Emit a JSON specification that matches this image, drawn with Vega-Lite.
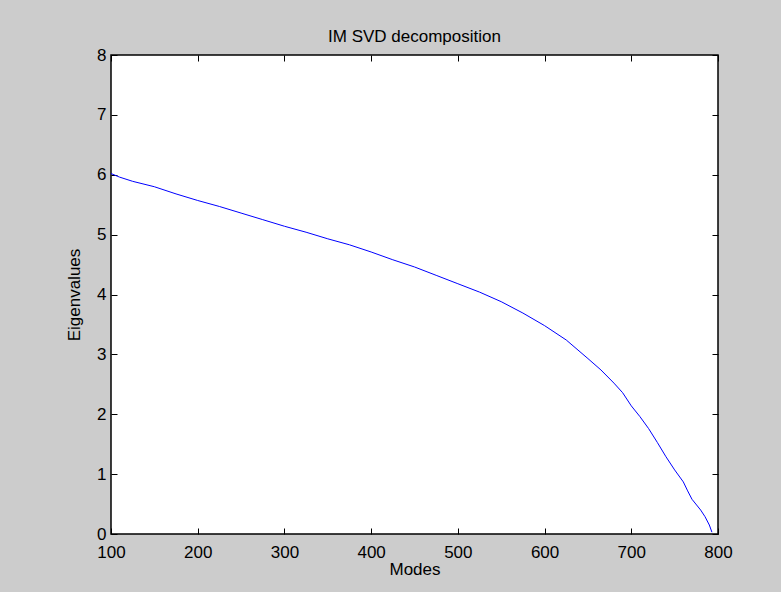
{
  "$schema": "https://vega.github.io/schema/vega-lite/v6.json",
  "width": 607,
  "height": 479,
  "autosize": {"type": "none"},
  "padding": {"left": 111, "top": 55, "right": 63, "bottom": 58},
  "background": "#cccccc",
  "title": {"text": "IM SVD decomposition", "font": "Liberation Sans", "fontSize": 17, "fontWeight": "normal", "color": "#000000", "offset": 0},
  "config": {
    "view": {"fill": "#ffffff", "stroke": "#000000", "strokeWidth": 1.5},
    "axis": {"grid": false, "domain": false, "labelFlush": false, "labelOverlap": false, "tickColor": "#000000", "tickSize": -6, "tickWidth": 1, "labelFont": "Liberation Sans", "labelFontSize": 17, "labelColor": "#000000", "titleFont": "Liberation Sans", "titleFontSize": 17, "titleFontWeight": "normal", "titleColor": "#000000"}
  },
  "data": {"values": [
    {"mode": 100, "ev": 6.02}, {"mode": 110, "ev": 5.96}, {"mode": 125, "ev": 5.89}, {"mode": 150, "ev": 5.80},
    {"mode": 175, "ev": 5.68}, {"mode": 200, "ev": 5.57}, {"mode": 225, "ev": 5.47}, {"mode": 250, "ev": 5.36},
    {"mode": 275, "ev": 5.25}, {"mode": 300, "ev": 5.14}, {"mode": 325, "ev": 5.04}, {"mode": 350, "ev": 4.93},
    {"mode": 375, "ev": 4.83}, {"mode": 400, "ev": 4.71}, {"mode": 425, "ev": 4.58}, {"mode": 450, "ev": 4.46},
    {"mode": 475, "ev": 4.32}, {"mode": 500, "ev": 4.18}, {"mode": 525, "ev": 4.04}, {"mode": 550, "ev": 3.88},
    {"mode": 575, "ev": 3.69}, {"mode": 600, "ev": 3.48}, {"mode": 625, "ev": 3.24}, {"mode": 650, "ev": 2.93},
    {"mode": 665, "ev": 2.74}, {"mode": 680, "ev": 2.52}, {"mode": 690, "ev": 2.36}, {"mode": 700, "ev": 2.14},
    {"mode": 710, "ev": 1.96}, {"mode": 720, "ev": 1.76}, {"mode": 730, "ev": 1.53}, {"mode": 740, "ev": 1.29},
    {"mode": 750, "ev": 1.07}, {"mode": 760, "ev": 0.87}, {"mode": 765, "ev": 0.72}, {"mode": 770, "ev": 0.58},
    {"mode": 780, "ev": 0.40}, {"mode": 785, "ev": 0.29}, {"mode": 790, "ev": 0.15}, {"mode": 793, "ev": 0.03}
  ]},
  "layer": [
    {
      "mark": {"type": "line", "color": "#0000ff", "strokeWidth": 1},
      "encoding": {
        "x": {"field": "mode", "type": "quantitative", "scale": {"domain": [100, 800], "nice": false, "zero": false}, "axis": {"orient": "bottom", "title": "Modes", "values": [100, 200, 300, 400, 500, 600, 700, 800], "labelPadding": 16, "titlePadding": 1}},
        "y": {"field": "ev", "type": "quantitative", "scale": {"domain": [0, 8], "nice": false}, "axis": {"orient": "left", "title": "Eigenvalues", "values": [0, 1, 2, 3, 4, 5, 6, 7, 8], "labelPadding": 11, "titlePadding": 13}}
      }
    },
    {
      "mark": {"type": "line", "opacity": 0},
      "encoding": {
        "x": {"field": "mode", "type": "quantitative", "scale": {"domain": [100, 800], "nice": false, "zero": false}, "axis": {"orient": "top", "title": null, "labels": false, "values": [100, 200, 300, 400, 500, 600, 700, 800]}},
        "y": {"field": "ev", "type": "quantitative", "scale": {"domain": [0, 8], "nice": false}, "axis": {"orient": "right", "title": null, "labels": false, "values": [0, 1, 2, 3, 4, 5, 6, 7, 8]}}
      }
    }
  ],
  "resolve": {"axis": {"x": "independent", "y": "independent"}}
}
